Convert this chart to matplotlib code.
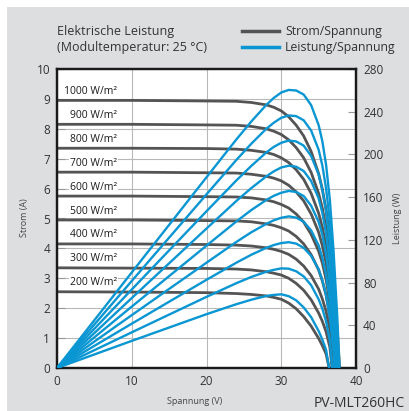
import matplotlib.pyplot as plt
from matplotlib.patches import Rectangle

plt.rcParams['font.family'] = ['Open Sans', 'DejaVu Sans']

einstrahlung = [1000, 900, 800, 700, 600, 500, 400, 300, 200]
spannung = [0, 10, 20, 24, 26, 28, 29, 30, 31, 32, 33, 34, 35, 35.5, 36, 36.5, 37, 37.5]
strom = [
    [8.95, 8.95, 8.93, 8.92, 8.88, 8.80, 8.72, 8.60, 8.40, 8.12, 7.76, 7.24, 6.50, 5.98, 5.28, 4.32, 2.95, 1.25],
    [8.15, 8.15, 8.13, 8.12, 8.08, 8.00, 7.92, 7.81, 7.63, 7.37, 7.03, 6.54, 5.84, 5.34, 4.67, 3.75, 2.45, 0.73],
    [7.35, 7.35, 7.34, 7.32, 7.28, 7.21, 7.14, 7.03, 6.87, 6.63, 6.31, 5.84, 5.18, 4.70, 4.08, 3.20, 1.95, 0.29],
    [6.55, 6.55, 6.53, 6.52, 6.48, 6.41, 6.35, 6.26, 6.11, 5.89, 5.59, 5.15, 4.54, 4.09, 3.50, 2.69, 1.51],
    [5.75, 5.75, 5.73, 5.72, 5.69, 5.62, 5.56, 5.47, 5.35, 5.15, 4.88, 4.47, 3.91, 3.51, 2.96, 2.19, 1.09],
    [4.95, 4.95, 4.93, 4.92, 4.89, 4.82, 4.77, 4.69, 4.58, 4.40, 4.15, 3.79, 3.28, 2.91, 2.43, 1.73, 0.72],
    [4.15, 4.15, 4.13, 4.11, 4.08, 4.02, 3.97, 3.90, 3.80, 3.64, 3.41, 3.09, 2.64, 2.31, 1.89, 1.29, 0.39],
    [3.35, 3.34, 3.33, 3.31, 3.28, 3.22, 3.17, 3.11, 3.00, 2.83, 2.60, 2.28, 1.84, 1.56, 1.21, 0.70],
    [2.55, 2.54, 2.52, 2.49, 2.46, 2.41, 2.36, 2.30, 2.17, 1.98, 1.72, 1.40, 0.99, 0.75, 0.47],
]
leerlauf = [37.8, 37.65, 37.55, 37.45, 37.35, 37.25, 37.1, 36.8, 36.4]

grau = '#545454'
blau = '#0a96d2'
hintergrund = '#dddee0'

fig = plt.figure(figsize=(4.09, 4.11), dpi=100, facecolor='white')
fig.patches.append(Rectangle((7/409, 0), 1, 1 - 7/411, transform=fig.transFigure,
                             facecolor=hintergrund, edgecolor='none', zorder=-10))

ax = fig.add_axes([57/409, 43/411, 299/409, 299/411])
ax.set_facecolor('white')
ax2 = ax.twinx()

for e, i_werte, voc in zip(einstrahlung, strom, leerlauf):
    v = spannung[:len(i_werte)] + [voc]
    i = i_werte + [0]
    p = [a*b for a, b in zip(v, i)]
    ax.plot(v, i, color=grau, lw=2.0, solid_capstyle='butt', zorder=3)
    ax2.plot(v, p, color=blau, lw=1.7, solid_capstyle='butt', zorder=3)
    ax.text(8.0, i_werte[0] + 0.3, f'{e} W/m²', ha='right', va='center',
            fontsize=7.5, color='#1a1a1a', zorder=4,
            bbox=dict(facecolor='white', edgecolor='none', pad=0.8))

ax.set_xlim(0, 40)
ax.set_ylim(0, 10)
ax2.set_ylim(0, 280)
ax.set_xticks([0, 10, 20, 30, 40])
ax.set_yticks(range(0, 11))
ax2.set_yticks(range(0, 281, 40))

ax.set_axisbelow(True)
ax.grid(True, color='#b8b8b8', lw=0.8)

ax.tick_params(axis='y', direction='in', length=6, width=0.8, color='#999999',
               labelsize=8.5, labelcolor='#333333', pad=5)
ax.tick_params(axis='x', length=0, labelsize=8.5, labelcolor='#333333', pad=5)
ax2.tick_params(axis='y', direction='in', length=6, width=0.8, color='#999999',
                labelsize=8.5, labelcolor='#333333', pad=5)

for a in (ax, ax2):
    for s in a.spines.values():
        s.set_linewidth(1.6)
        s.set_color('#1a1a1a')

fig.text(24/409, 1 - 218/411, 'Strom (A)', rotation=90, ha='center', va='center',
         fontsize=6.5, color='#444444')
fig.text(398/409, 1 - 218/411, 'Leistung (W)', rotation=90, ha='center', va='center',
         fontsize=6.5, color='#444444')
fig.text(195/409, 1 - 401/411, 'Spannung (V)', ha='center', va='center',
         fontsize=6.5, color='#444444')
fig.text(405/409, 1 - 403/411, 'PV-MLT260HC', ha='right', va='center',
         fontsize=10, color='#333333')

fig.text(57/409, 1 - 31/411, 'Elektrische Leistung', ha='left', va='center',
         fontsize=9, color='#333333')
fig.text(57/409, 1 - 47/411, '(Modultemperatur: 25 °C)', ha='left', va='center',
         fontsize=9, color='#333333')

fig.add_artist(plt.Line2D([242/409, 279/409], [1 - 31/411, 1 - 31/411], color=grau, lw=2.5))
fig.add_artist(plt.Line2D([242/409, 279/409], [1 - 47/411, 1 - 47/411], color=blau, lw=2.5))
fig.text(285/409, 1 - 31/411, 'Strom/Spannung', ha='left', va='center',
         fontsize=8.8, color='#333333')
fig.text(285/409, 1 - 47/411, 'Leistung/Spannung', ha='left', va='center',
         fontsize=8.8, color='#333333')

fig.savefig('out.png', dpi=100, facecolor=fig.get_facecolor())
